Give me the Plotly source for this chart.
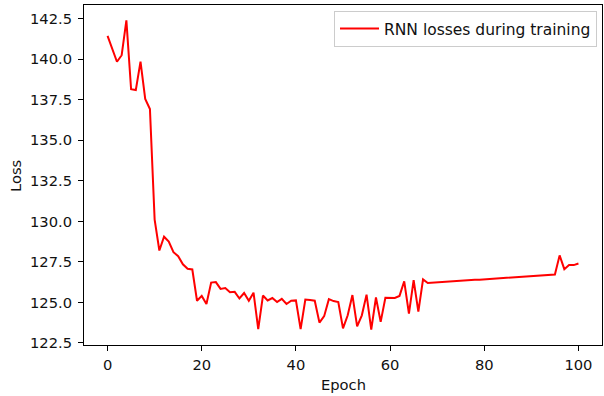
import plotly.graph_objects as go

epochs = list(range(101))
losses = [
    141.45, 140.65, 139.85, 140.25, 142.4, 138.15, 138.1, 139.86, 137.55, 136.93,
    130.1, 128.2, 129.05, 128.75, 128.1, 127.85, 127.35, 127.07, 127.03, 125.1,
    125.4, 124.9, 126.22, 126.25, 125.83, 125.88, 125.62, 125.65, 125.24, 125.58,
    125.1, 125.6, 123.35, 125.42, 125.12, 125.27, 125.02, 125.22, 124.9, 125.1,
    125.12, 123.35, 125.17, 125.14, 125.1, 123.75, 124.15, 125.2, 125.08, 125.02,
    123.4, 124.2, 125.45, 123.52, 124.2, 125.48, 123.32, 125.3, 123.8, 125.28,
    125.27, 125.27, 125.4, 126.3, 124.3, 126.37, 124.43, 126.42, 126.2, 126.22,
    126.25, 126.27, 126.3, 126.33, 126.31, 126.35, 126.36, 126.38, 126.39, 126.4,
    126.42, 126.43, 126.45, 126.47, 126.48, 126.5, 126.52, 126.52, 126.55, 126.57,
    126.58, 126.6, 126.66, 126.67, 126.7, 126.72, 127.9, 127.05, 127.3, 127.3,
    127.4,
]
x_ticks = [0, 20, 40, 60, 80, 100]
y_ticks = [122.5, 125.0, 127.5, 130.0, 132.5, 135.0, 137.5, 140.0, 142.5]

W, H = 604, 396
L, R, T, B = 84, 2, 5, 51
pw = W - L - R
ph = H - T - B
FS = 14.7

fig = go.Figure()
fig.add_trace(go.Scatter(
    x=epochs, y=losses, mode="lines",
    line=dict(color="#ff0000", width=2),
    name="RNN losses during training",
))

axis_common = dict(
    showline=True, linecolor="black", linewidth=1, mirror=True,
    ticks="outside", ticklen=5, tickwidth=1, tickcolor="black",
    showgrid=False, zeroline=False, automargin=False,
    tickfont=dict(family="DejaVu Sans", size=FS, color="#111111"),
)

fig.update_layout(
    width=W, height=H,
    margin=dict(l=L, r=R, t=T, b=B, pad=0, autoexpand=False),
    paper_bgcolor="white", plot_bgcolor="white",
    font=dict(family="DejaVu Sans", size=FS, color="black"),
    xaxis=dict(
        range=[-5, 105], tickvals=x_ticks, ticktext=[str(v) for v in x_ticks],
        ticklabelstandoff=1,
        **axis_common,
    ),
    yaxis=dict(
        range=[122.37, 143.35], tickvals=y_ticks,
        ticktext=[f"{v:.1f}" for v in y_ticks],
        ticklabelstandoff=3,
        **axis_common,
    ),
    showlegend=True,
    legend=dict(
        x=(334 - L) / pw, y=1 - (11 - T) / ph, xanchor="left", yanchor="top",
        bgcolor="rgba(255,255,255,0.8)", bordercolor="#cccccc", borderwidth=1,
        font=dict(family="DejaVu Sans", size=15.5, color="#111111"),
        itemwidth=39,
    ),
    annotations=[
        dict(text="Epoch", x=0.5, xref="paper", y=1 - (384 - T) / ph, yref="paper",
             showarrow=False, xanchor="center", yanchor="middle",
             font=dict(family="DejaVu Sans", size=FS, color="#111111")),
        dict(text="Loss", x=(15 - L) / pw, xref="paper", y=1 - (176 - T) / ph,
             yref="paper", showarrow=False, textangle=-90,
             xanchor="center", yanchor="middle",
             font=dict(family="DejaVu Sans", size=FS, color="#111111")),
    ],
)

fig.write_html(
    "out.html",
    config={"displayModeBar": False},
    post_script="document.body.style.margin='0';document.body.style.padding='0';",
)
